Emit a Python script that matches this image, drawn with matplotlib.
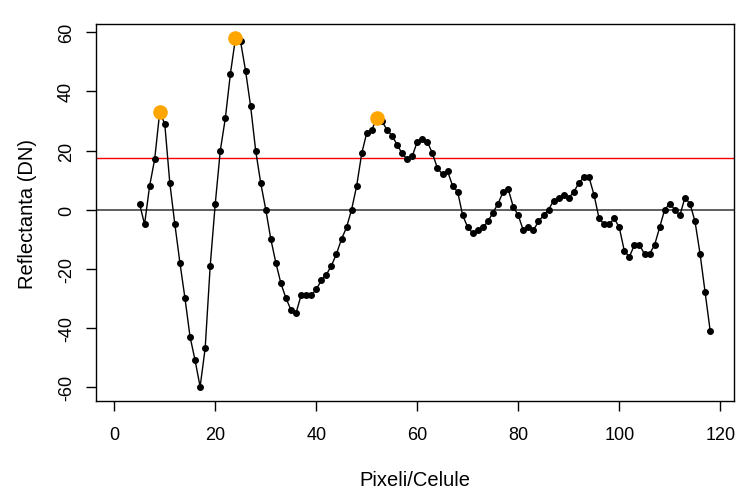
import matplotlib.pyplot as plt
import numpy as np

plt.rcParams['font.family'] = ['Liberation Sans', 'DejaVu Sans']
plt.rcParams['axes.unicode_minus'] = False

# pixel index and reflectance values
pixeli = np.arange(5, 119)
reflectanta = np.array([
    2, -5, 8, 17, 33, 29, 9, -5, -18, -30,            # 5-14
    -43, -51, -60, -47, -19, 2, 20, 31, 46, 58,       # 15-24
    57, 47, 35, 20, 9, 0, -10, -18, -25, -30,         # 25-34
    -34, -35, -29, -29, -29, -27, -24, -22, -19, -15, # 35-44
    -10, -6, 0, 8, 19, 26, 27, 31, 30, 27,            # 45-54
    25, 22, 19, 17, 18, 23, 24, 23, 19, 14,           # 55-64
    12, 13, 8, 6, -2, -6, -8, -7, -6, -4,             # 65-74
    -1, 2, 6, 7, 1, -2, -7, -6, -7, -4,               # 75-84
    -2, 0, 3, 4, 5, 4, 6, 9, 11, 11,                  # 85-94
    5, -3, -5, -5, -3, -6, -14, -16, -12, -12,        # 95-104
    -15, -15, -12, -6, 0, 2, 0, -2, 4, 2,             # 105-114
    -4, -15, -28, -41,                                # 115-118
])

varfuri = [9, 24, 52]   # highlighted peaks
prag = 17.4             # red threshold line

fig = plt.figure(figsize=(7.36, 4.89), dpi=100)
ax = fig.add_axes([0.130, 0.1785, 0.867, 0.7697])

ax.axhline(0, color='#444444', lw=1.2, zorder=1)
ax.axhline(prag, color='red', lw=1, zorder=1)
ax.plot(pixeli, reflectanta, color='black', lw=1, marker='o', ms=4, zorder=2)

idx = [list(pixeli).index(v) for v in varfuri]
ax.plot(pixeli[idx], reflectanta[idx], 'o', color='orange', ms=10.5,
        markeredgewidth=0, zorder=3)

ax.set_xlim(-3.68, 122.68)
ax.set_ylim(-64.72, 62.72)
ax.set_xticks(np.arange(0, 121, 20))
ax.set_yticks(np.arange(-60, 61, 20))
ax.tick_params(axis='both', length=7.5, width=1, labelsize=13)
ax.tick_params(axis='x', pad=11)
ax.tick_params(axis='y', pad=7.5)
plt.setp(ax.get_yticklabels(), rotation=90, va='center')

for s in ax.spines.values():
    s.set_linewidth(1)

fig.text(0.5639, 2.5 / 489, 'Pixeli/Celule', ha='center', va='baseline',
         fontsize=14.5)
fig.text(0.0367, 0.563, 'Reflectanta (DN)', ha='center', va='center',
         rotation=90, fontsize=14.5)

fig.savefig('out.png', dpi=100)
